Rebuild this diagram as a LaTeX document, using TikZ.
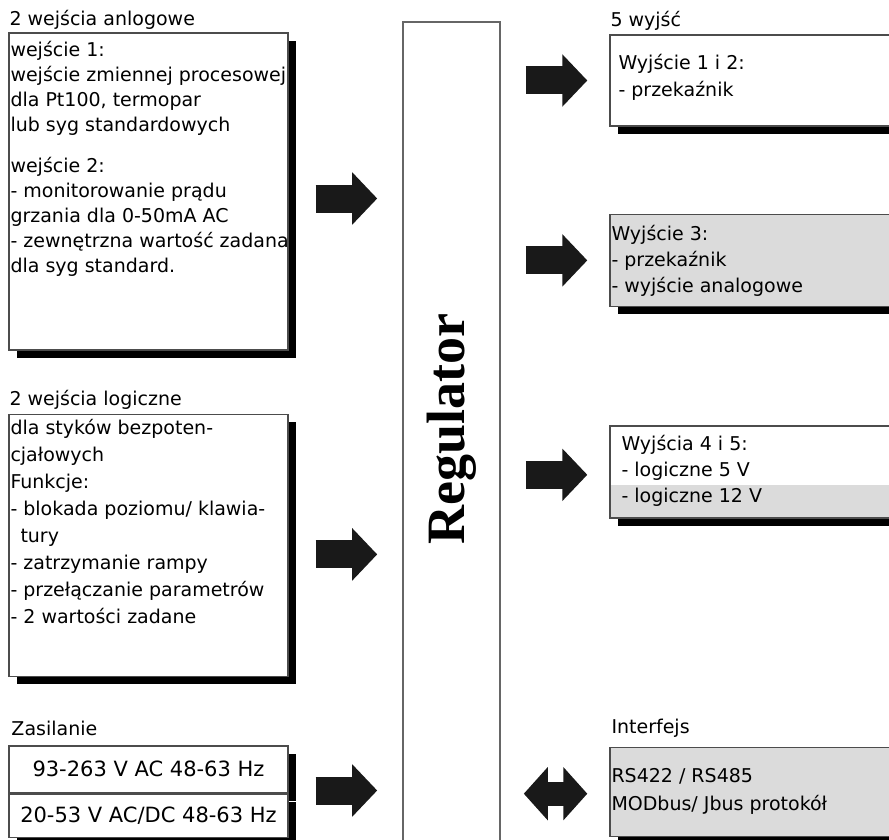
\documentclass[tikz,border=0pt]{standalone}
\usepackage{fontspec}
\setmainfont{DejaVu Sans}
\newfontfamily\regfont{Liberation Serif}
\usetikzlibrary{positioning,shadows,arrows.meta}
\definecolor{boxgrey}{gray}{0.86}

\begin{document}
\begin{tikzpicture}[x=1pt, y=-1pt,
  box/.style={draw=black!70, line width=1.4pt, fill=white, minimum width=279pt, inner sep=0pt,
    drop shadow={shadow xshift=8pt, shadow yshift=-8pt, fill=black, opacity=1}},
  outbox/.style={box, minimum width=300pt},
  txt/.style={inner sep=0pt, align=left, anchor=north west, font=\fontsize{19}{25}\selectfont},
  head/.style={inner sep=0pt, anchor=base west, font=\fontsize{19}{25}\selectfont},
  bigarrow/.style={line width=28pt, black!90, -{Triangle[width=51pt, length=25pt]}},
  dblarrow/.style={line width=24pt, black!90, {Triangle[width=52pt, length=24pt]}-{Triangle[width=52pt, length=24pt]}},
  ]
  \fill[white] (0,0) rectangle (889,840);
  \useasboundingbox (0,0) rectangle (889,840);
  \clip (0,0) rectangle (889,840);

  % inputs
  \node[box, minimum height=317pt] (ana) at (148.5,191.5) {};
  \node[box, minimum height=262pt, below=63pt of ana] (logic) {};
  \node[box, minimum height=47pt, below=68pt of logic, font=\fontsize{21}{25}\selectfont] (pwrA) {93-263 V AC 48-63 Hz};
  \node[box, minimum height=43pt, below=0pt of pwrA, font=\fontsize{21}{25}\selectfont] (pwrB) {20-53 V AC/DC 48-63 Hz};

  \node[head] (anaHead) at ([shift={(1pt,7pt)}]ana.north west) {2 wejścia anlogowe};
  \node[head] (logicHead) at ([shift={(1pt,8pt)}]logic.north west) {2 wejścia logiczne};
  \node[head] (pwrHead) at ([shift={(3pt,10pt)}]pwrA.north west) {Zasilanie};

  \node[txt] (anaTxt) at ([shift={(2pt,-9pt)}]ana.north west)
    {wejście 1:\\ wejście zmiennej procesowej\\ dla Pt100, termopar\\ lub syg standardowych\\[16pt]
     wejście 2:\\ - monitorowanie prądu\\ grzania dla 0-50mA AC\\ - zewnętrzna wartość zadana\\ dla syg standard.};
  \node[txt, font=\fontsize{19}{27}\selectfont] (logicTxt) at ([shift={(2pt,-5pt)}]logic.north west)
    {dla styków bezpoten-\\ cjałowych\\ Funkcje:\\ - blokada poziomu/ klawia-\\ \hspace*{10pt}tury\\
     - zatrzymanie rampy\\ - przełączanie parametrów\\ - 2 wartości zadane};

  % controller
  \node[draw=black!60, line width=1.6pt, fill=white, minimum width=97pt, minimum height=826pt, inner sep=0pt,
    font=\regfont\bfseries\fontsize{54}{60}\selectfont] (reg) at (451.5,435) {\rotatebox{90}{\hspace{12pt}Regulator}};

  % outputs
  \node[outbox, minimum height=91pt] (out1) at (760,80.5) {};
  \node[outbox, fill=boxgrey, minimum height=92pt, below=87pt of out1] (out2) {};
  \node[outbox, minimum height=92pt, below=118pt of out2,
    path picture={\fill[boxgrey] ([yshift=33pt]path picture bounding box.south west) rectangle (path picture bounding box.south east);}] (out3) {};
  \node[outbox, fill=boxgrey, minimum height=89pt, below=228pt of out3] (iface) {};

  \node[head] (outHead) at ([shift={(1pt,8pt)}]out1.north west) {5 wyjść};
  \node[head] (ifaceHead) at ([shift={(2pt,13pt)}]iface.north west) {Interfejs};

  \node[txt, font=\fontsize{19}{27}\selectfont] (out1Txt) at ([shift={(9pt,-20pt)}]out1.north west) {Wyjście 1 i 2:\\ - przekaźnik};
  \node[txt, font=\fontsize{19}{26}\selectfont] (out2Txt) at ([shift={(2pt,-11pt)}]out2.north west) {Wyjście 3:\\ - przekaźnik\\ - wyjście analogowe};
  \node[txt, font=\fontsize{19}{26}\selectfont] (out3Txt) at ([shift={(12pt,-10pt)}]out3.north west) {Wyjścia 4 i 5:\\ - logiczne 5 V\\ - logiczne 12 V};
  \node[txt, font=\fontsize{19}{28}\selectfont] (ifaceTxt) at ([shift={(2pt,-22pt)}]iface.north west) {RS422 / RS485\\ MODbus/ Jbus protokół};

  % arrows
  \draw[bigarrow] ([shift={(27pt,-7pt)}]ana.east) -- ([shift={(-25pt,-7pt)}]reg.west |- ana.east);
  \draw[bigarrow] ([shift={(27pt,-9pt)}]logic.east) -- ([shift={(-25pt,-9pt)}]reg.west |- logic.east);
  \draw[bigarrow] ([shift={(27pt,3pt)}]pwrA.south east) -- ([shift={(-25pt,3pt)}]reg.west |- pwrA.south east);
  \draw[bigarrow] ([xshift=25pt]reg.east |- out1.west) -- ([xshift=-22pt]out1.west);
  \draw[bigarrow] ([xshift=25pt]reg.east |- out2.west) -- ([xshift=-22pt]out2.west);
  \draw[bigarrow] ([shift={(25pt,-3pt)}]reg.east |- out3.west) -- ([shift={(-22pt,-3pt)}]out3.west);
  \draw[dblarrow] ([shift={(23pt,-2pt)}]reg.east |- iface.west) -- ([shift={(-22pt,-2pt)}]iface.west);
\end{tikzpicture}
\end{document}
